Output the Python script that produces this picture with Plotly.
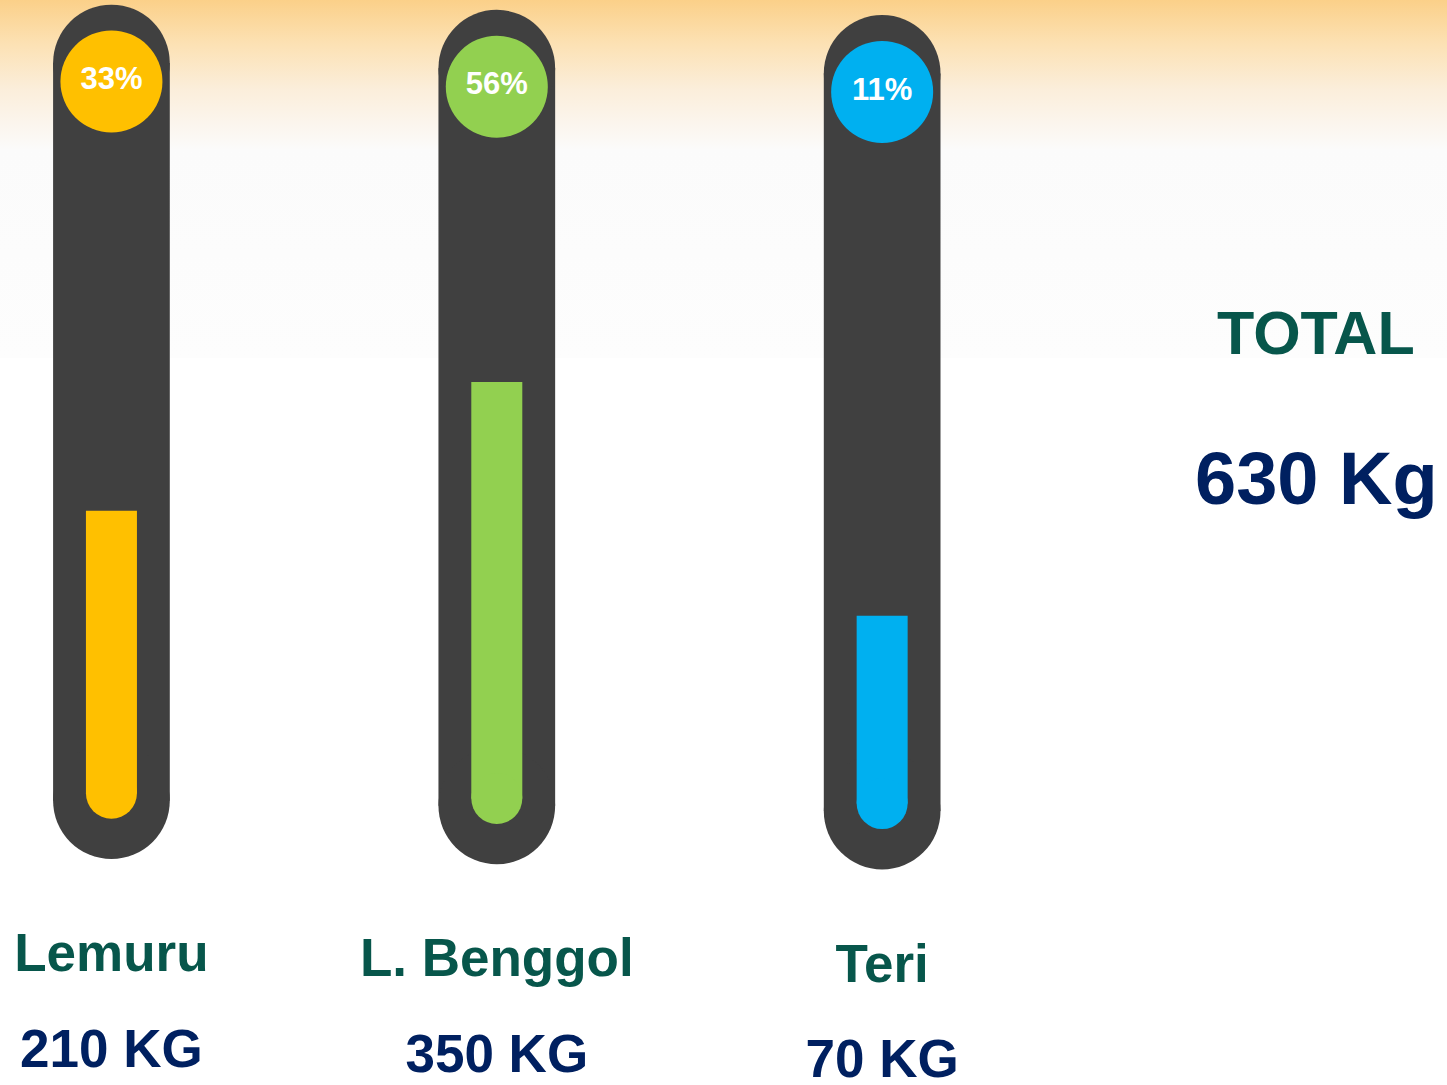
import plotly.graph_objects as go

# ---------------- data ----------------
categories = ["Lemuru", "L. Benggol", "Teri"]
weights_kg = [210, 350, 70]
fill_levels = [39.7, 58.5, 26.4]          # gauge fill, % of the tube
fill_colors = ["#FFC000", "#92D050", "#00B0F0"]

total_kg = sum(weights_kg)
percents = [round(w / total_kg * 100) for w in weights_kg]

# ---------------- styling / layout constants ----------------
W, H = 1447, 1085
X_RANGE = [-0.2892, 3.4658]
Y_RANGE = [-41.0, 111.45]
STAGGER = 0.73            # each tube sits slightly lower than the previous
TUBE_BOTTOM, TUBE_TOP = -1.05, 102.6
CAP_LEVEL = 100
NAME_Y, KG_Y = -23.15, -36.6
TUBE_W, FILL_W, CAP_D = 116.7, 51, 102
TUBE_COLOR = "#404040"
NAME_COLOR = "#07564B"
KG_COLOR = "#002060"
FONT = "Liberation Sans, Arial, sans-serif"

fig = go.Figure()

# background gradient (top band)
bg_low = Y_RANGE[1] - 358 * (Y_RANGE[1] - Y_RANGE[0]) / H
fig.add_trace(go.Scatter(
    x=[X_RANGE[0], X_RANGE[1], X_RANGE[1], X_RANGE[0], X_RANGE[0]],
    y=[bg_low, bg_low, Y_RANGE[1] + 1, Y_RANGE[1] + 1, bg_low],
    mode="lines", line=dict(width=0), fill="toself",
    fillgradient=dict(type="vertical", start=bg_low, stop=Y_RANGE[1],
                      colorscale=[[0, "#FDFDFD"], [0.58, "#FBFBFB"],
                                  [0.75, "#FBEEDB"], [0.88, "#FCE1B3"],
                                  [1, "#FBD089"]]),
    hoverinfo="skip", showlegend=False))

for i, (cat, w, lvl, col, p) in enumerate(zip(categories, weights_kg, fill_levels,
                                               fill_colors, percents)):
    s = i * STAGGER
    # tube
    fig.add_trace(go.Scatter(
        x=[i, i], y=[TUBE_BOTTOM - s, TUBE_TOP - s], mode="lines+markers",
        line=dict(color=TUBE_COLOR, width=TUBE_W),
        marker=dict(color=TUBE_COLOR, size=TUBE_W, opacity=1, line=dict(width=0)),
        hoverinfo="skip", showlegend=False))
    # fill bar (rounded bottom)
    fig.add_trace(go.Scatter(
        x=[i, i], y=[-s, lvl - s], mode="lines+markers",
        line=dict(color=col, width=FILL_W),
        marker=dict(color=col, size=[FILL_W, 0], opacity=1, line=dict(width=0)),
        name=cat, hoverinfo="skip", showlegend=False))
    # percent badge
    fig.add_trace(go.Scatter(
        x=[i], y=[CAP_LEVEL - s], mode="markers+text",
        marker=dict(color=col, size=CAP_D, opacity=1, line=dict(width=0)),
        text=[f"{p}%"], textposition="middle center",
        textfont=dict(family=FONT, size=31, color="white", weight="bold"),
        hoverinfo="skip", showlegend=False))
    # category name and weight
    fig.add_trace(go.Scatter(
        x=[i], y=[NAME_Y - s], mode="text", text=[cat],
        textposition="middle center",
        textfont=dict(family=FONT, size=53, color=NAME_COLOR, weight="bold"),
        hoverinfo="skip", showlegend=False))
    fig.add_trace(go.Scatter(
        x=[i], y=[KG_Y - s], mode="text", text=[f"{w} KG"],
        textposition="middle center",
        textfont=dict(family=FONT, size=53, color=KG_COLOR, weight="bold"),
        hoverinfo="skip", showlegend=False))

fig.add_annotation(x=0.9095, y=0.6931, xref="paper", yref="paper",
                   xanchor="center", yanchor="middle",
                   text="<b>TOTAL</b>", showarrow=False,
                   font=dict(family=FONT, size=61, color=NAME_COLOR))
fig.add_annotation(x=0.9095, y=0.5594, xref="paper", yref="paper",
                   xanchor="center", yanchor="middle",
                   text=f"<b>{total_kg} Kg</b>", showarrow=False,
                   font=dict(family=FONT, size=74, color=KG_COLOR))

fig.update_layout(
    width=W, height=H, margin=dict(l=0, r=0, t=0, b=0, pad=0),
    paper_bgcolor="white", plot_bgcolor="white",
    xaxis=dict(range=X_RANGE, visible=False, fixedrange=True),
    yaxis=dict(range=Y_RANGE, visible=False, fixedrange=True),
    showlegend=False,
)

fig.write_html("out.html", config={"displayModeBar": False},
               post_script="document.body.style.margin='0px';")
